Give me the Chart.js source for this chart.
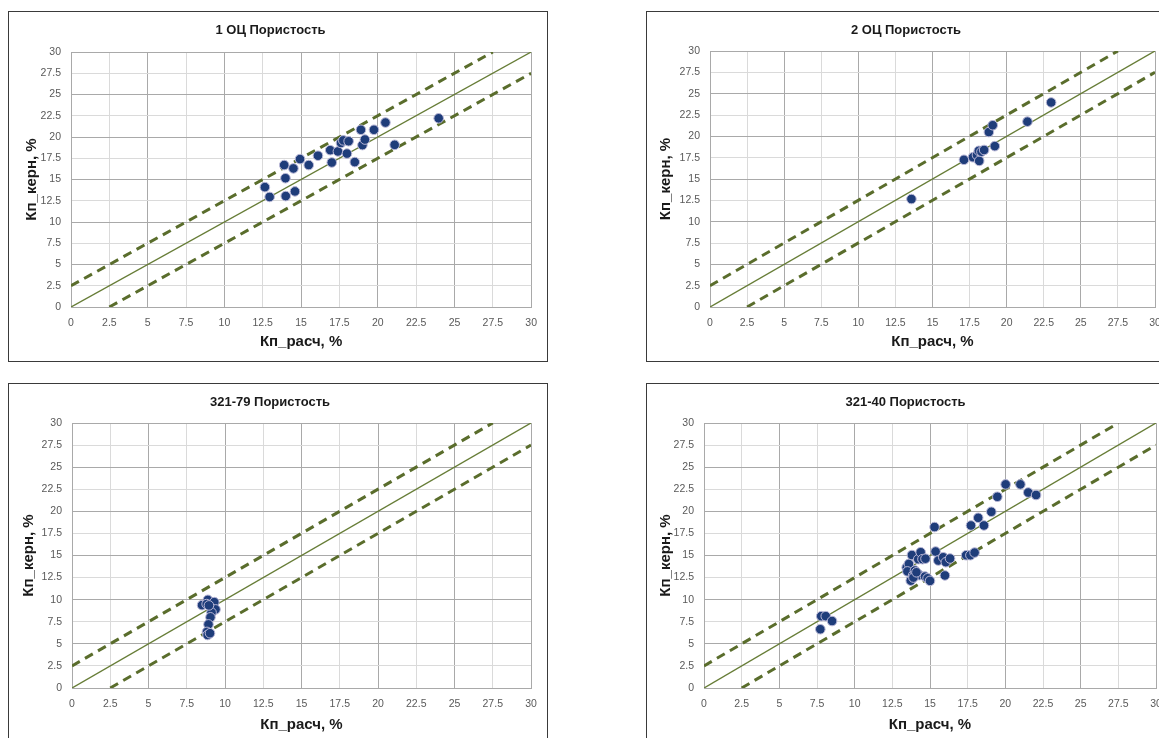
<!DOCTYPE html>
<html>
<head>
<meta charset="utf-8">
<script src="https://cdn.jsdelivr.net/npm/chart.js@4/dist/chart.umd.min.js"></script>
<style>
  html, body { margin: 0; padding: 0; background: #fff; overflow: hidden; width: 1159px; height: 738px; }
  .box { position: absolute; border: 1px solid #3a3a3a; background: #fff; }
  .box canvas { display: block; }
</style>
</head>
<body>
<div class="box" style="left:8px; top:11px;"><canvas id="c1" width="538" height="349"></canvas></div>
<div class="box" style="left:646px; top:11px;"><canvas id="c2" width="558" height="349"></canvas></div>
<div class="box" style="left:8px; top:383px;"><canvas id="c3" width="538" height="368"></canvas></div>
<div class="box" style="left:646px; top:383px;"><canvas id="c4" width="558" height="368"></canvas></div>
<script>
// Кп_расч (x) / Кп_керн (y), %
const oc1Calc = [12.64, 12.95, 13.9, 13.98, 14.0, 14.5, 14.6, 14.93, 15.5, 16.1, 16.9, 17.0, 17.4, 17.6, 17.75, 17.99, 18.1, 18.5, 18.9, 19.0, 19.16, 19.75, 20.5, 21.1, 23.97];
const oc1Core = [14.1, 12.95, 16.7, 15.15, 13.05, 16.3, 13.6, 17.4, 16.7, 17.8, 18.45, 17.0, 18.3, 19.3, 19.6, 18.05, 19.5, 17.05, 20.85, 19.05, 19.7, 20.85, 21.7, 19.08, 22.2];

const oc2Calc = [13.58, 17.12, 17.73, 18.0, 18.15, 18.12, 18.3, 18.48, 18.8, 19.06, 19.2, 21.4, 23.0];
const oc2Core = [12.65, 17.25, 17.55, 17.8, 17.12, 18.3, 18.2, 18.4, 20.5, 21.3, 18.85, 21.72, 23.97];

const w79Calc = [8.5, 8.88, 8.8, 9.3, 9.15, 9.38, 9.12, 9.05, 8.92, 8.82, 8.86, 9.02, 8.95];
const w79Core = [9.38, 9.98, 9.5, 9.72, 8.65, 8.9, 8.55, 8.0, 7.2, 6.35, 6.0, 6.2, 9.35];

const w40Calc = [7.72, 7.78, 8.08, 8.5, 13.45, 13.6, 13.5, 13.8, 13.72, 13.88, 14.0, 14.22, 14.38, 14.5, 14.7, 14.3, 14.67, 14.84, 15.0,
                 15.3, 15.37, 15.55, 15.88, 16.05, 15.99, 16.33, 17.4, 17.68, 17.96, 17.72, 18.2, 18.58, 19.07, 19.47, 20.02, 21.0, 21.52, 22.04, 13.9, 14.1];
const w40Core = [6.65, 8.13, 8.13, 7.58, 13.65, 14.05, 13.2, 15.05, 12.15, 12.75, 13.3, 14.58, 15.37, 14.58, 14.64, 12.78, 12.62, 12.42, 12.13,
                 18.22, 15.45, 14.43, 14.8, 14.24, 12.74, 14.66, 15.03, 15.03, 15.33, 18.4, 19.27, 18.4, 19.95, 21.65, 23.05, 23.05, 22.13, 21.85, 12.5, 13.1];

// 1:1 line and +/-2.5 band
const lineX = [0, 30], lineY = [0, 30];
const upperX = [0, 27.5], upperY = [2.5, 30];
const lowerX = [2.5, 30], lowerY = [0, 27.5];

const axisMin = 0, axisMax = 30, axisStep = 2.5;

const pts = (xs, ys) => xs.map((x, i) => ({x: x, y: ys[i]}));
const gridColor = ctx => (ctx.tick && ctx.tick.value % 5 === 0) ? '#a9a9a9' : '#dadada';

function makeChart(id, title, xs, ys, lay) {
  new Chart(document.getElementById(id), {
    type: 'scatter',
    data: {
      datasets: [
        {data: pts(xs, ys), backgroundColor: '#1f3d7a', borderColor: '#b9b7d6', borderWidth: 1, pointRadius: 4.8},
        {data: pts(lineX, lineY), showLine: true, pointRadius: 0, borderColor: '#677d37', borderWidth: 1.4},
        {data: pts(upperX, upperY), showLine: true, pointRadius: 0, borderColor: '#5a6d2c', borderWidth: 3, borderDash: [9, 6]},
        {data: pts(lowerX, lowerY), showLine: true, pointRadius: 0, borderColor: '#5a6d2c', borderWidth: 3, borderDash: [9, 6]}
      ]
    },
    options: {
      responsive: false,
      animation: false,
      layout: {padding: {left: lay.padL, right: lay.padR, top: 0, bottom: 0}},
      plugins: {
        legend: {display: false},
        tooltip: {enabled: false},
        title: {
          display: true, text: title, color: '#1a1a1a',
          font: {family: 'Liberation Sans', size: 13, weight: 'bold', lineHeight: 1.2},
          padding: {top: lay.titleTop, bottom: lay.titleBottom}
        }
      },
      scales: {
        x: {
          type: 'linear', min: axisMin, max: axisMax,
          afterFit: s => { s.height = lay.xHeight; },
          grid: {color: gridColor, drawTicks: false},
          border: {color: '#a9a9a9'},
          ticks: {stepSize: axisStep, padding: 10, color: '#595959', maxRotation: 0, autoSkip: false,
                  font: {family: 'Liberation Sans', size: 10.5}, callback: v => String(v)},
          title: {display: true, text: 'Кп_расч, %', color: '#1a1a1a',
                  font: {family: 'Liberation Sans', size: 15, weight: 'bold', lineHeight: 1.2},
                  padding: {top: 0, bottom: lay.xTitlePad}}
        },
        y: {
          type: 'linear', min: axisMin, max: axisMax,
          afterFit: s => { s.width = lay.yWidth; },
          grid: {color: gridColor, drawTicks: false},
          border: {color: '#a9a9a9'},
          ticks: {stepSize: axisStep, padding: 10, color: '#595959', autoSkip: false,
                  font: {family: 'Liberation Sans', size: 10.5}, callback: v => String(v)},
          title: {display: true, text: 'Кп_керн, %', color: '#1a1a1a',
                  font: {family: 'Liberation Sans', size: 15, weight: 'bold', lineHeight: 1.2},
                  padding: {top: lay.yTitlePad, bottom: 0}}
        }
      }
    }
  });
}

makeChart('c1', '1 ОЦ Пористость', oc1Calc, oc1Core,
  {padL: 0, padR: 15, titleTop: 11, titleBottom: 13.4, yWidth: 62, xHeight: 54, xTitlePad: 10, yTitlePad: 14});
makeChart('c2', '2 ОЦ Пористость', oc2Calc, oc2Core,
  {padL: 10, padR: 50, titleTop: 11, titleBottom: 12.4, yWidth: 53, xHeight: 54, xTitlePad: 10, yTitlePad: 0});
makeChart('c3', '321-79 Пористость', w79Calc, w79Core,
  {padL: 0, padR: 16, titleTop: 10.5, titleBottom: 12.9, yWidth: 63, xHeight: 64, xTitlePad: 18, yTitlePad: 11});
makeChart('c4', '321-40 Пористость', w40Calc, w40Core,
  {padL: 8, padR: 49, titleTop: 10.5, titleBottom: 12.9, yWidth: 49, xHeight: 64, xTitlePad: 18, yTitlePad: 2});
</script>
</body>
</html>
